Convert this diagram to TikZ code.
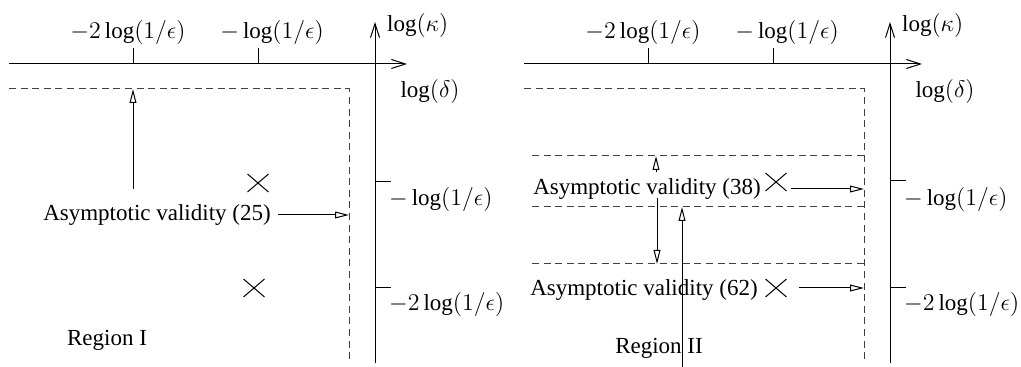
\documentclass[tikz,border=0pt]{standalone}
\usepackage{fontspec}
\setmainfont{Liberation Serif}
\usetikzlibrary{arrows.meta,positioning,shapes.misc}
\tikzset{
  axis/.style={line width=0.5pt,-{Straight Barb[length=7pt,width=4.5pt]}},
  ptr/.style={line width=0.5pt,-{Triangle[open,length=7pt,width=3.4pt]}},
  bound/.style={line width=0.5pt,black!75,dash pattern=on 3.5pt off 2.3pt},
  crossmark/.style={draw,cross out,line width=0.5pt,minimum width=10pt,minimum height=8.5pt,inner sep=0pt},
}

\begin{document}
\begin{tikzpicture}[x=0.5pt,y=-0.5pt,font=\fontsize{11.5}{13}\selectfont,line width=0.5pt]
  \useasboundingbox (0,0) rectangle (1021,367);
  % ---------- left panel: Region I ----------
  \coordinate (hL0) at (9,64);   \coordinate (hL1) at (407,64);
  \coordinate (vL0) at (375,363); \coordinate (vL1) at (375,22);
  \draw[axis] (hL0) -- (hL1);
  \draw[axis] (vL0) -- (vL1);
  \draw (133,48) -- (133,64);
  \draw (258,48) -- (258,64);
  \draw (375,182) -- (391,182);
  \draw (375,288) -- (391,288);
  \node (tL2) at (128,33) {$-2\log(1/\epsilon)$};
  \node (tL1) at (272,33) {$-\log(1/\epsilon)$};
  \node[anchor=west] (kapL) at (380,26) {$\log(\kappa)$};
  \node (delL) at (430,92) {$\log(\delta)$};
  \node[anchor=west] (sL1) at (382,200) {$-\log(1/\epsilon)$};
  \node[anchor=west] (sL2) at (382,305) {$-2\log(1/\epsilon)$};
  % dashed corner of validity domain
  \draw[bound] (9,89) coordinate (cL0) -- (349,89) coordinate (cL1) -- (349,363) coordinate (cL2);
  \node (av25) at (157,215) {Asymptotic validity (25)};
  \node[crossmark] (xL1) at (258,183) {};
  \node[crossmark] (xL2) at (254,288) {};
  \coordinate (upL) at (133,189);
  \draw[ptr] (upL) -- (upL |- cL0);
  \draw[ptr] (av25.east) -- (av25.east -| cL1);
  \node (reg1) at (107,340) {Region I};
  % ---------- right panel: Region II ----------
  \coordinate (hR0) at (524,64);  \coordinate (hR1) at (922,64);
  \coordinate (vR0) at (890,363); \coordinate (vR1) at (890,22);
  \draw[axis] (hR0) -- (hR1);
  \draw[axis] (vR0) -- (vR1);
  \draw (648,48) -- (648,64);
  \draw (773,48) -- (773,64);
  \draw (890,181) -- (906,181);
  \draw (890,288) -- (906,288);
  \node (tR2) at (643,33) {$-2\log(1/\epsilon)$};
  \node (tR1) at (787,33) {$-\log(1/\epsilon)$};
  \node[anchor=west] (kapR) at (895,26) {$\log(\kappa)$};
  \node (delR) at (945,92) {$\log(\delta)$};
  \node[anchor=west] (sR1) at (897,200) {$-\log(1/\epsilon)$};
  \node[anchor=west] (sR2) at (897,305) {$-2\log(1/\epsilon)$};
  \draw[bound] (524,89) coordinate (cR0) -- (864,89) coordinate (cR1) -- (864,363) coordinate (cR2);
  \draw[bound] (532,156) coordinate (b1w) -- (864,156);
  \draw[bound] (532,207) coordinate (b2w) -- (864,207);
  \draw[bound] (532,264) coordinate (b3w) -- (864,264);
  \node (av38) at (647,189) {Asymptotic validity (38)};
  \node (av62) at (644,290) {Asymptotic validity (62)};
  \node[crossmark] (xR1) at (776,182) {};
  \node[crossmark] (xR2) at (776,288) {};
  \draw[ptr] ([xshift=2pt,yshift=-3.5pt]xR1.east) -- ([yshift=-3.5pt]xR1.east -| cR1);
  \draw[ptr] ([xshift=6pt]xR2.east) -- (xR2.east -| cR1);
  \coordinate (up38) at (656,172);
  \draw[ptr] (up38) -- (up38 |- b1w);
  \coordinate (dn38) at (657,198);
  \draw[ptr] (dn38) -- (dn38 |- b3w);
  \node (reg2) at (659,348) {Region II};
  \coordinate (foot2) at (682,367);
  \draw[ptr] (foot2) -- (foot2 |- b2w);
\end{tikzpicture}
\end{document}
